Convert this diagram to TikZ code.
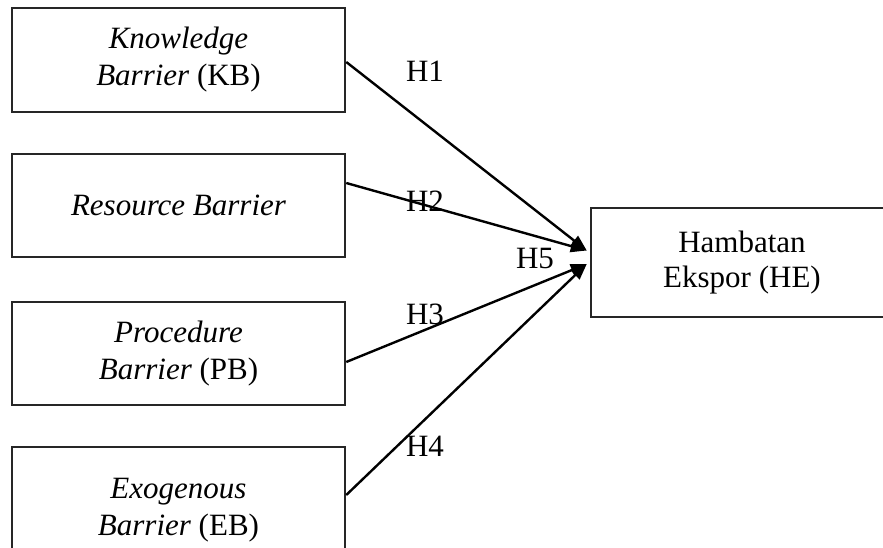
\documentclass[tikz,border=0pt]{standalone}
\usepackage{fontspec}
\setmainfont{Liberation Serif}
\usetikzlibrary{arrows.meta,calc}
\begin{document}
\begin{tikzpicture}[x=1pt,y=-1pt,
  boxnode/.style={draw=black!85,line width=2.5pt,minimum width=333pt,inner sep=0pt,align=center,
    font=\fontsize{31}{37}\selectfont},
  hlabel/.style={inner sep=0pt,font=\fontsize{31}{36}\selectfont},
  link/.style={line width=2.4pt,-{Triangle[length=16pt,width=12pt]}}]
\useasboundingbox (0,0) rectangle (883,548);
\begin{scope}
\clip (0,0) rectangle (883,548);
\node[boxnode,minimum height=104pt] (kb) at (178.5,60) {\itshape Knowledge\\\itshape Barrier \upshape(KB)};
\node[boxnode,minimum height=103pt] (rb) at (178.5,205.5) {\itshape Resource Barrier};
\node[boxnode,minimum height=103pt] (pb) at (178.5,353.5) {\itshape Procedure\\\itshape Barrier \upshape(PB)};
\node[boxnode,minimum height=126pt] (eb) at (178.5,510) {\itshape Exogenous\\\itshape Barrier \upshape(EB)};
\node[boxnode,minimum width=302pt,minimum height=109pt,font=\fontsize{31}{35}\selectfont] (he) at (742,262.5) {Hambatan\\Ekspor (HE)};
\end{scope}
\coordinate (tA) at ([xshift=-3pt,yshift=12pt]he.west);
\coordinate (tB) at ([xshift=-3pt,yshift=-1.5pt]he.west);
\draw[link] ([yshift=-2pt]kb.east) -- (tA);
\draw[link] ([yshift=22.5pt]rb.east) -- (tA);
\draw[link] ([yshift=-8.5pt]pb.east) -- (tB);
\draw[link] ([yshift=15pt]eb.east) -- (tB);
\node[hlabel] (h1) at (425,71) {H1};
\node[hlabel] (h2) at (425,201) {H2};
\node[hlabel] (h3) at (425,314) {H3};
\node[hlabel] (h4) at (425,446) {H4};
\node[hlabel] (h5) at (535,259) {H5};
\end{tikzpicture}
\end{document}
